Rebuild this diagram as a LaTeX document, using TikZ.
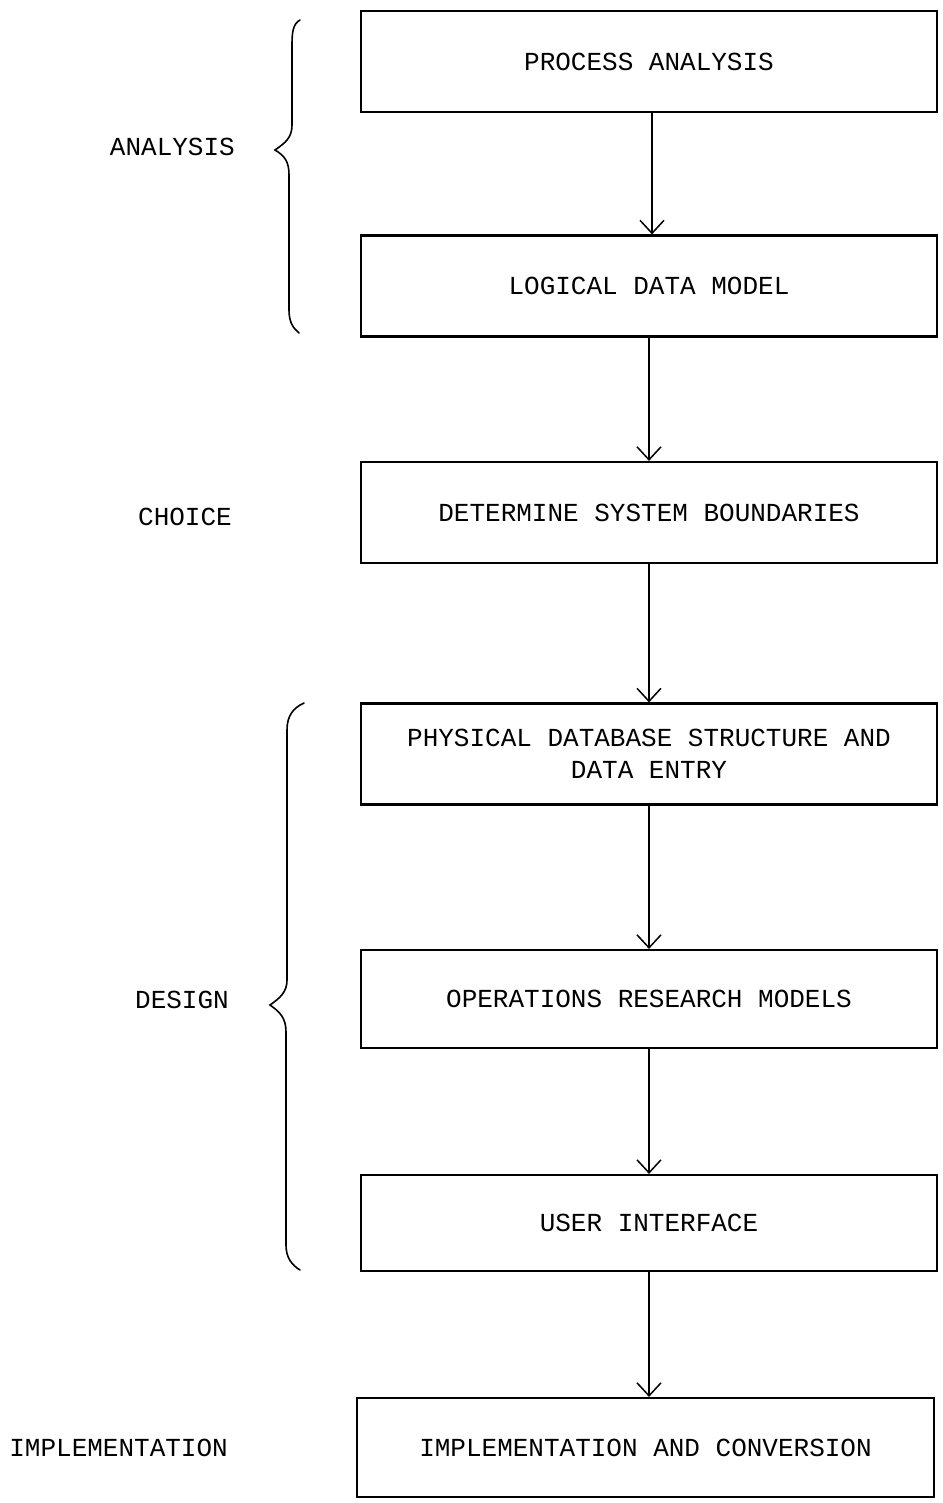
\documentclass[tikz,border=0pt]{standalone}
\usepackage{fontspec}
\setmainfont{Liberation Mono}
\usetikzlibrary{arrows.meta}
\begin{document}
\begin{tikzpicture}[x=1pt,y=-1pt,
  stepbox/.style={draw, line width=2.2pt, rectangle, minimum width=576pt, minimum height=101pt, inner sep=0pt, align=center, font=\fontsize{26}{32}\selectfont},
  lab/.style={anchor=east, inner sep=0pt, font=\fontsize{26}{32}\selectfont},
  arr/.style={line width=1.5pt, -{Straight Barb[length=13pt,width=24pt,line width=1.5pt]}},
  brace/.style={line width=1.6pt, line cap=round}]
\useasboundingbox (0,0) rectangle (942,1503);
\node[stepbox] (b1) at (649,61.5) {PROCESS ANALYSIS};
\node[stepbox] (b2) at (649,286) {LOGICAL DATA MODEL};
\node[stepbox] (b3) at (649,512.5) {DETERMINE SYSTEM BOUNDARIES};
\node[stepbox] (b4) at (649,754) {PHYSICAL DATABASE STRUCTURE AND\\DATA ENTRY};
\node[stepbox, minimum height=98pt] (b5) at (649,999) {OPERATIONS RESEARCH MODELS};
\node[stepbox, minimum height=96pt] (b6) at (649,1223) {USER INTERFACE};
\node[stepbox, minimum width=577pt, minimum height=99pt] (b7) at (645.5,1447.5) {IMPLEMENTATION AND CONVERSION};
\draw[arr] (b1.south) ++(3,0) coordinate (a1) -- (a1 |- b2.north);
\draw[arr] (b2.south) -- (b3.north);
\draw[arr] (b3.south) -- (b4.north);
\draw[arr] (b4.south) -- (b5.north);
\draw[arr] (b5.south) -- (b6.north);
\draw[arr] (b6.south) -- (b6.south |- b7.north);
\node[lab] (l1) at (235,147) {ANALYSIS};
\node[lab] (l2) at (232,517) {CHOICE};
\node[lab] (l3) at (229,1000) {DESIGN};
\node[lab] (l4) at (228,1448) {IMPLEMENTATION};
\draw[brace] (300,20) .. controls (293,24) and (292,32) .. (292,45) -- (292,125)
  .. controls (292,138) and (285,143) .. (275,150)
  .. controls (285,156) and (289,162) .. (289,175) -- (289,310)
  .. controls (289,322) and (293,328) .. (299,333);
\draw[brace] (304,703) .. controls (293,708) and (287,716) .. (287,730) -- (287,980)
  .. controls (287,992) and (280,998) .. (270,1005)
  .. controls (280,1012) and (286,1018) .. (286,1032) -- (286,1245)
  .. controls (286,1258) and (292,1265) .. (300,1270);
\end{tikzpicture}
\end{document}
